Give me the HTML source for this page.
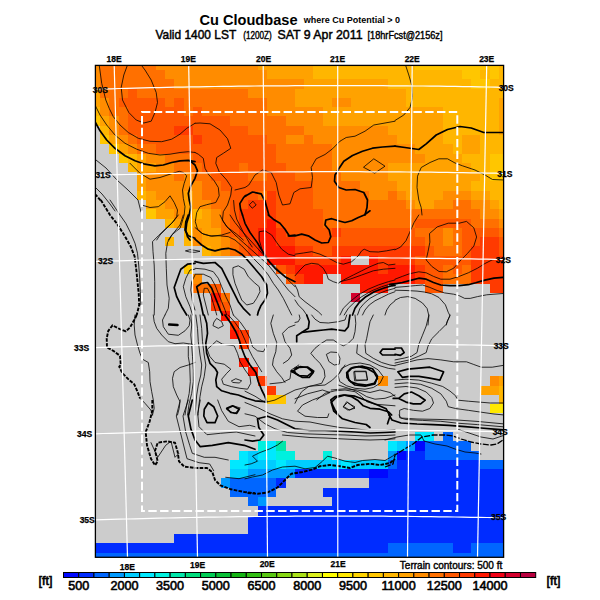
<!DOCTYPE html>
<html><head><meta charset="utf-8"><title>Cu Cloudbase</title>
<style>
html,body{margin:0;padding:0;background:#fff;}
body{width:600px;height:600px;overflow:hidden;position:relative;font-family:"Liberation Sans",sans-serif;}
svg{position:absolute;left:0;top:0;}
text{font-family:"Liberation Sans",sans-serif;fill:#000;}
.cbl{font-size:12.6px;text-anchor:middle;stroke:#000;stroke-width:0.6px;}
.ll{font-size:8.5px;text-anchor:middle;font-weight:bold;stroke:#000;stroke-width:0.25px;}
.t1{font-size:14.6px;font-weight:bold;}
.t1s{font-size:9.4px;font-weight:bold;}
.t2{font-size:13.6px;stroke:#000;stroke-width:0.5px;}
.t2s{font-size:10px;stroke:#000;stroke-width:0.4px;}
.tc{font-size:10.4px;stroke:#000;stroke-width:0.4px;}
.ft{font-size:12.6px;stroke:#000;stroke-width:0.6px;}
</style></head><body>
<svg width="600" height="600" viewBox="0 0 600 600">
<rect x="0" y="0" width="600" height="600" fill="#fff"/>
<rect x="95.4" y="65.4" width="408.20" height="491.90" fill="#cccccc"/>
<g shape-rendering="crispEdges">
<rect x="95.40" y="65.40" width="4.69" height="4.69" fill="#ff8c00"/>
<rect x="100.04" y="65.40" width="55.71" height="4.69" fill="#ff7000"/>
<rect x="155.70" y="65.40" width="102.10" height="4.69" fill="#ff8c00"/>
<rect x="257.75" y="65.40" width="55.71" height="4.69" fill="#ffa200"/>
<rect x="313.42" y="65.40" width="102.10" height="4.69" fill="#ffb600"/>
<rect x="415.47" y="65.40" width="83.55" height="4.69" fill="#ffc600"/>
<rect x="498.96" y="65.40" width="4.69" height="4.69" fill="#ffb600"/>
<rect x="95.40" y="70.04" width="4.69" height="9.33" fill="#ff8c00"/>
<rect x="100.04" y="70.04" width="64.99" height="9.33" fill="#ff7000"/>
<rect x="164.98" y="70.04" width="102.10" height="9.33" fill="#ff8c00"/>
<rect x="267.03" y="70.04" width="46.44" height="9.33" fill="#ffa200"/>
<rect x="313.42" y="70.04" width="148.49" height="9.33" fill="#ffb600"/>
<rect x="461.85" y="70.04" width="18.60" height="9.33" fill="#ffc600"/>
<rect x="480.41" y="70.04" width="9.33" height="9.33" fill="#ffb600"/>
<rect x="489.68" y="70.04" width="9.33" height="9.33" fill="#ffc600"/>
<rect x="498.96" y="70.04" width="4.69" height="9.33" fill="#ffb600"/>
<rect x="95.40" y="79.32" width="4.69" height="9.33" fill="#ff8c00"/>
<rect x="100.04" y="79.32" width="74.27" height="9.33" fill="#ff7000"/>
<rect x="174.26" y="79.32" width="129.93" height="9.33" fill="#ff8c00"/>
<rect x="304.14" y="79.32" width="83.55" height="9.33" fill="#ffa200"/>
<rect x="387.63" y="79.32" width="83.55" height="9.33" fill="#ffb600"/>
<rect x="471.13" y="79.32" width="18.60" height="9.33" fill="#ffc600"/>
<rect x="489.68" y="79.32" width="13.97" height="9.33" fill="#ffb600"/>
<rect x="95.40" y="88.60" width="4.69" height="9.33" fill="#ffa200"/>
<rect x="100.04" y="88.60" width="27.88" height="9.33" fill="#ff7000"/>
<rect x="127.87" y="88.60" width="9.33" height="9.33" fill="#ff5800"/>
<rect x="137.15" y="88.60" width="111.38" height="9.33" fill="#ff7000"/>
<rect x="248.48" y="88.60" width="46.44" height="9.33" fill="#ff8c00"/>
<rect x="294.86" y="88.60" width="111.38" height="9.33" fill="#ffa200"/>
<rect x="406.19" y="88.60" width="97.46" height="9.33" fill="#ffb600"/>
<rect x="95.40" y="97.88" width="4.69" height="9.33" fill="#ffa200"/>
<rect x="100.04" y="97.88" width="9.33" height="9.33" fill="#ff8c00"/>
<rect x="109.32" y="97.88" width="9.33" height="9.33" fill="#ff7000"/>
<rect x="118.59" y="97.88" width="46.44" height="9.33" fill="#ff5800"/>
<rect x="164.98" y="97.88" width="9.33" height="9.33" fill="#ff7000"/>
<rect x="174.26" y="97.88" width="9.33" height="9.33" fill="#ff5800"/>
<rect x="183.53" y="97.88" width="83.55" height="9.33" fill="#ff7000"/>
<rect x="267.03" y="97.88" width="27.88" height="9.33" fill="#ff8c00"/>
<rect x="294.86" y="97.88" width="37.16" height="9.33" fill="#ffa200"/>
<rect x="331.97" y="97.88" width="18.60" height="9.33" fill="#ff8c00"/>
<rect x="350.53" y="97.88" width="55.71" height="9.33" fill="#ffa200"/>
<rect x="406.19" y="97.88" width="92.82" height="9.33" fill="#ffb600"/>
<rect x="498.96" y="97.88" width="4.69" height="9.33" fill="#ffa200"/>
<rect x="95.40" y="107.17" width="4.69" height="9.33" fill="#ffb600"/>
<rect x="100.04" y="107.17" width="9.33" height="9.33" fill="#ff8c00"/>
<rect x="109.32" y="107.17" width="18.60" height="9.33" fill="#ff7000"/>
<rect x="127.87" y="107.17" width="55.71" height="9.33" fill="#ff5800"/>
<rect x="183.53" y="107.17" width="9.33" height="9.33" fill="#ff7000"/>
<rect x="192.81" y="107.17" width="9.33" height="9.33" fill="#ff5800"/>
<rect x="202.09" y="107.17" width="64.99" height="9.33" fill="#ff7000"/>
<rect x="267.03" y="107.17" width="55.71" height="9.33" fill="#ff8c00"/>
<rect x="322.69" y="107.17" width="120.65" height="9.33" fill="#ffa200"/>
<rect x="443.30" y="107.17" width="55.71" height="9.33" fill="#ffb600"/>
<rect x="498.96" y="107.17" width="4.69" height="9.33" fill="#ffa200"/>
<rect x="95.40" y="116.45" width="4.69" height="9.33" fill="#ffc600"/>
<rect x="100.04" y="116.45" width="9.33" height="9.33" fill="#ffa200"/>
<rect x="109.32" y="116.45" width="9.33" height="9.33" fill="#ff8c00"/>
<rect x="118.59" y="116.45" width="9.33" height="9.33" fill="#ff7000"/>
<rect x="127.87" y="116.45" width="102.10" height="9.33" fill="#ff5800"/>
<rect x="229.92" y="116.45" width="55.71" height="9.33" fill="#ff7000"/>
<rect x="285.58" y="116.45" width="37.16" height="9.33" fill="#ff8c00"/>
<rect x="322.69" y="116.45" width="120.65" height="9.33" fill="#ffa200"/>
<rect x="443.30" y="116.45" width="55.71" height="9.33" fill="#ffb600"/>
<rect x="498.96" y="116.45" width="4.69" height="9.33" fill="#ffa200"/>
<rect x="100.04" y="125.73" width="9.33" height="9.33" fill="#ffb600"/>
<rect x="109.32" y="125.73" width="9.33" height="9.33" fill="#ff8c00"/>
<rect x="118.59" y="125.73" width="9.33" height="9.33" fill="#ff7000"/>
<rect x="127.87" y="125.73" width="46.44" height="9.33" fill="#ff5800"/>
<rect x="174.26" y="125.73" width="18.60" height="9.33" fill="#ff3a00"/>
<rect x="192.81" y="125.73" width="55.71" height="9.33" fill="#ff5800"/>
<rect x="248.48" y="125.73" width="55.71" height="9.33" fill="#ff7000"/>
<rect x="304.14" y="125.73" width="83.55" height="9.33" fill="#ff8c00"/>
<rect x="387.63" y="125.73" width="55.71" height="9.33" fill="#ffa200"/>
<rect x="443.30" y="125.73" width="55.71" height="9.33" fill="#ffb600"/>
<rect x="498.96" y="125.73" width="4.69" height="9.33" fill="#ffa200"/>
<rect x="100.04" y="135.01" width="9.33" height="9.33" fill="#ffc600"/>
<rect x="109.32" y="135.01" width="9.33" height="9.33" fill="#ffa200"/>
<rect x="118.59" y="135.01" width="9.33" height="9.33" fill="#ff8c00"/>
<rect x="127.87" y="135.01" width="9.33" height="9.33" fill="#ff7000"/>
<rect x="137.15" y="135.01" width="55.71" height="9.33" fill="#ff5800"/>
<rect x="192.81" y="135.01" width="9.33" height="9.33" fill="#ff3a00"/>
<rect x="202.09" y="135.01" width="64.99" height="9.33" fill="#ff5800"/>
<rect x="267.03" y="135.01" width="18.60" height="9.33" fill="#ff7000"/>
<rect x="285.58" y="135.01" width="18.60" height="9.33" fill="#ff8c00"/>
<rect x="304.14" y="135.01" width="9.33" height="9.33" fill="#ff7000"/>
<rect x="313.42" y="135.01" width="83.55" height="9.33" fill="#ff8c00"/>
<rect x="396.91" y="135.01" width="46.44" height="9.33" fill="#ffa200"/>
<rect x="443.30" y="135.01" width="18.60" height="9.33" fill="#ffb600"/>
<rect x="461.85" y="135.01" width="18.60" height="9.33" fill="#ffa200"/>
<rect x="480.41" y="135.01" width="23.24" height="9.33" fill="#ffb600"/>
<rect x="109.32" y="144.29" width="9.33" height="9.33" fill="#ffc600"/>
<rect x="118.59" y="144.29" width="9.33" height="9.33" fill="#ffa200"/>
<rect x="127.87" y="144.29" width="9.33" height="9.33" fill="#ff8c00"/>
<rect x="137.15" y="144.29" width="18.60" height="9.33" fill="#ff7000"/>
<rect x="155.70" y="144.29" width="120.65" height="9.33" fill="#ff5800"/>
<rect x="276.31" y="144.29" width="55.71" height="9.33" fill="#ff7000"/>
<rect x="331.97" y="144.29" width="83.55" height="9.33" fill="#ff8c00"/>
<rect x="415.47" y="144.29" width="37.16" height="9.33" fill="#ffa200"/>
<rect x="452.58" y="144.29" width="9.33" height="9.33" fill="#ffb600"/>
<rect x="461.85" y="144.29" width="18.60" height="9.33" fill="#ffa200"/>
<rect x="480.41" y="144.29" width="23.24" height="9.33" fill="#ffb600"/>
<rect x="118.59" y="153.57" width="9.33" height="9.33" fill="#ffc600"/>
<rect x="127.87" y="153.57" width="9.33" height="9.33" fill="#ffb600"/>
<rect x="137.15" y="153.57" width="9.33" height="9.33" fill="#ffa200"/>
<rect x="146.43" y="153.57" width="18.60" height="9.33" fill="#ff8c00"/>
<rect x="164.98" y="153.57" width="27.88" height="9.33" fill="#ff7000"/>
<rect x="192.81" y="153.57" width="83.55" height="9.33" fill="#ff5800"/>
<rect x="276.31" y="153.57" width="55.71" height="9.33" fill="#ff7000"/>
<rect x="331.97" y="153.57" width="92.82" height="9.33" fill="#ff8c00"/>
<rect x="424.74" y="153.57" width="37.16" height="9.33" fill="#ffa200"/>
<rect x="461.85" y="153.57" width="27.88" height="9.33" fill="#ffb600"/>
<rect x="489.68" y="153.57" width="13.97" height="9.33" fill="#ffc600"/>
<rect x="127.87" y="162.85" width="9.33" height="9.33" fill="#ffb600"/>
<rect x="137.15" y="162.85" width="18.60" height="9.33" fill="#ffa200"/>
<rect x="155.70" y="162.85" width="18.60" height="9.33" fill="#ff8c00"/>
<rect x="174.26" y="162.85" width="27.88" height="9.33" fill="#ff7000"/>
<rect x="202.09" y="162.85" width="37.16" height="9.33" fill="#ff5800"/>
<rect x="239.20" y="162.85" width="9.33" height="9.33" fill="#ff7000"/>
<rect x="248.48" y="162.85" width="37.16" height="9.33" fill="#ff5800"/>
<rect x="285.58" y="162.85" width="46.44" height="9.33" fill="#ff7000"/>
<rect x="331.97" y="162.85" width="55.71" height="9.33" fill="#ff8c00"/>
<rect x="387.63" y="162.85" width="83.55" height="9.33" fill="#ffa200"/>
<rect x="471.13" y="162.85" width="18.60" height="9.33" fill="#ffb600"/>
<rect x="489.68" y="162.85" width="13.97" height="9.33" fill="#ffc600"/>
<rect x="137.15" y="172.13" width="9.33" height="9.33" fill="#ffa200"/>
<rect x="146.43" y="172.13" width="27.88" height="9.33" fill="#ff8c00"/>
<rect x="174.26" y="172.13" width="9.33" height="9.33" fill="#ff7000"/>
<rect x="183.53" y="172.13" width="9.33" height="9.33" fill="#ff8c00"/>
<rect x="192.81" y="172.13" width="18.60" height="9.33" fill="#ff7000"/>
<rect x="211.37" y="172.13" width="37.16" height="9.33" fill="#ff5800"/>
<rect x="248.48" y="172.13" width="18.60" height="9.33" fill="#ff7000"/>
<rect x="267.03" y="172.13" width="27.88" height="9.33" fill="#ff5800"/>
<rect x="294.86" y="172.13" width="46.44" height="9.33" fill="#ff7000"/>
<rect x="341.25" y="172.13" width="46.44" height="9.33" fill="#ff8c00"/>
<rect x="387.63" y="172.13" width="92.82" height="9.33" fill="#ffa200"/>
<rect x="480.41" y="172.13" width="9.33" height="9.33" fill="#ffb600"/>
<rect x="489.68" y="172.13" width="13.97" height="9.33" fill="#ffc600"/>
<rect x="137.15" y="181.41" width="9.33" height="9.33" fill="#ffa200"/>
<rect x="146.43" y="181.41" width="55.71" height="9.33" fill="#ff8c00"/>
<rect x="202.09" y="181.41" width="18.60" height="9.33" fill="#ff7000"/>
<rect x="220.64" y="181.41" width="92.82" height="9.33" fill="#ff5800"/>
<rect x="313.42" y="181.41" width="46.44" height="9.33" fill="#ff7000"/>
<rect x="359.80" y="181.41" width="37.16" height="9.33" fill="#ff8c00"/>
<rect x="396.91" y="181.41" width="74.27" height="9.33" fill="#ffa200"/>
<rect x="471.13" y="181.41" width="32.52" height="9.33" fill="#ffb600"/>
<rect x="137.15" y="190.70" width="9.33" height="9.33" fill="#ffb600"/>
<rect x="146.43" y="190.70" width="9.33" height="9.33" fill="#ffa200"/>
<rect x="155.70" y="190.70" width="27.88" height="9.33" fill="#ff8c00"/>
<rect x="183.53" y="190.70" width="9.33" height="9.33" fill="#ffa200"/>
<rect x="192.81" y="190.70" width="9.33" height="9.33" fill="#ff8c00"/>
<rect x="202.09" y="190.70" width="27.88" height="9.33" fill="#ff7000"/>
<rect x="229.92" y="190.70" width="27.88" height="9.33" fill="#ff5800"/>
<rect x="257.75" y="190.70" width="9.33" height="9.33" fill="#ff7000"/>
<rect x="267.03" y="190.70" width="9.33" height="9.33" fill="#ff3a00"/>
<rect x="276.31" y="190.70" width="37.16" height="9.33" fill="#ff5800"/>
<rect x="313.42" y="190.70" width="55.71" height="9.33" fill="#ff7000"/>
<rect x="369.08" y="190.70" width="18.60" height="9.33" fill="#ff8c00"/>
<rect x="387.63" y="190.70" width="9.33" height="9.33" fill="#ff7000"/>
<rect x="396.91" y="190.70" width="9.33" height="9.33" fill="#ff8c00"/>
<rect x="406.19" y="190.70" width="37.16" height="9.33" fill="#ffa200"/>
<rect x="443.30" y="190.70" width="27.88" height="9.33" fill="#ff8c00"/>
<rect x="471.13" y="190.70" width="18.60" height="9.33" fill="#ffa200"/>
<rect x="489.68" y="190.70" width="13.97" height="9.33" fill="#ffb600"/>
<rect x="146.43" y="199.98" width="18.60" height="9.33" fill="#ffa200"/>
<rect x="164.98" y="199.98" width="18.60" height="9.33" fill="#ff8c00"/>
<rect x="183.53" y="199.98" width="9.33" height="9.33" fill="#ffa200"/>
<rect x="192.81" y="199.98" width="18.60" height="9.33" fill="#ff8c00"/>
<rect x="211.37" y="199.98" width="18.60" height="9.33" fill="#ff7000"/>
<rect x="229.92" y="199.98" width="18.60" height="9.33" fill="#ff5800"/>
<rect x="248.48" y="199.98" width="27.88" height="9.33" fill="#ff3a00"/>
<rect x="276.31" y="199.98" width="37.16" height="9.33" fill="#ff5800"/>
<rect x="313.42" y="199.98" width="92.82" height="9.33" fill="#ff7000"/>
<rect x="406.19" y="199.98" width="9.33" height="9.33" fill="#ff8c00"/>
<rect x="415.47" y="199.98" width="18.60" height="9.33" fill="#ffa200"/>
<rect x="434.02" y="199.98" width="18.60" height="9.33" fill="#ff8c00"/>
<rect x="452.58" y="199.98" width="18.60" height="9.33" fill="#ff7000"/>
<rect x="471.13" y="199.98" width="18.60" height="9.33" fill="#ff8c00"/>
<rect x="489.68" y="199.98" width="9.33" height="9.33" fill="#ffa200"/>
<rect x="498.96" y="199.98" width="4.69" height="9.33" fill="#ffb600"/>
<rect x="146.43" y="209.26" width="9.33" height="9.33" fill="#ffc600"/>
<rect x="155.70" y="209.26" width="18.60" height="9.33" fill="#ffa200"/>
<rect x="174.26" y="209.26" width="9.33" height="9.33" fill="#ff8c00"/>
<rect x="183.53" y="209.26" width="9.33" height="9.33" fill="#ffa200"/>
<rect x="192.81" y="209.26" width="9.33" height="9.33" fill="#ffb600"/>
<rect x="202.09" y="209.26" width="9.33" height="9.33" fill="#ffa200"/>
<rect x="211.37" y="209.26" width="9.33" height="9.33" fill="#ff8c00"/>
<rect x="220.64" y="209.26" width="9.33" height="9.33" fill="#ff7000"/>
<rect x="229.92" y="209.26" width="9.33" height="9.33" fill="#ff5800"/>
<rect x="239.20" y="209.26" width="37.16" height="9.33" fill="#ff3a00"/>
<rect x="276.31" y="209.26" width="46.44" height="9.33" fill="#ff5800"/>
<rect x="322.69" y="209.26" width="157.76" height="9.33" fill="#ff7000"/>
<rect x="480.41" y="209.26" width="18.60" height="9.33" fill="#ff8c00"/>
<rect x="498.96" y="209.26" width="4.69" height="9.33" fill="#ffa200"/>
<rect x="164.98" y="218.54" width="9.33" height="9.33" fill="#ffb600"/>
<rect x="174.26" y="218.54" width="9.33" height="9.33" fill="#ffa200"/>
<rect x="183.53" y="218.54" width="9.33" height="9.33" fill="#ffb600"/>
<rect x="192.81" y="218.54" width="18.60" height="9.33" fill="#ffa200"/>
<rect x="211.37" y="218.54" width="9.33" height="9.33" fill="#ff8c00"/>
<rect x="220.64" y="218.54" width="9.33" height="9.33" fill="#ff7000"/>
<rect x="229.92" y="218.54" width="9.33" height="9.33" fill="#ff5800"/>
<rect x="239.20" y="218.54" width="27.88" height="9.33" fill="#ff3a00"/>
<rect x="267.03" y="218.54" width="9.33" height="9.33" fill="#ff1800"/>
<rect x="276.31" y="218.54" width="46.44" height="9.33" fill="#ff5800"/>
<rect x="322.69" y="218.54" width="92.82" height="9.33" fill="#ff7000"/>
<rect x="415.47" y="218.54" width="55.71" height="9.33" fill="#ff5800"/>
<rect x="471.13" y="218.54" width="27.88" height="9.33" fill="#ff7000"/>
<rect x="498.96" y="218.54" width="4.69" height="9.33" fill="#ff8c00"/>
<rect x="183.53" y="227.82" width="9.33" height="9.33" fill="#ffb600"/>
<rect x="192.81" y="227.82" width="9.33" height="9.33" fill="#ff8c00"/>
<rect x="202.09" y="227.82" width="18.60" height="9.33" fill="#ffa200"/>
<rect x="220.64" y="227.82" width="9.33" height="9.33" fill="#ff7000"/>
<rect x="229.92" y="227.82" width="9.33" height="9.33" fill="#ff5800"/>
<rect x="239.20" y="227.82" width="18.60" height="9.33" fill="#ff3a00"/>
<rect x="257.75" y="227.82" width="18.60" height="9.33" fill="#ff1800"/>
<rect x="276.31" y="227.82" width="9.33" height="9.33" fill="#ff3a00"/>
<rect x="285.58" y="227.82" width="46.44" height="9.33" fill="#ff5800"/>
<rect x="331.97" y="227.82" width="9.33" height="9.33" fill="#ff3a00"/>
<rect x="341.25" y="227.82" width="74.27" height="9.33" fill="#ff5800"/>
<rect x="415.47" y="227.82" width="27.88" height="9.33" fill="#ff7000"/>
<rect x="443.30" y="227.82" width="9.33" height="9.33" fill="#ff8c00"/>
<rect x="452.58" y="227.82" width="9.33" height="9.33" fill="#ff7000"/>
<rect x="461.85" y="227.82" width="37.16" height="9.33" fill="#ff5800"/>
<rect x="498.96" y="227.82" width="4.69" height="9.33" fill="#ff7000"/>
<rect x="164.98" y="237.10" width="9.33" height="9.33" fill="#ffb600"/>
<rect x="183.53" y="237.10" width="9.33" height="9.33" fill="#ffb600"/>
<rect x="192.81" y="237.10" width="9.33" height="9.33" fill="#ff8c00"/>
<rect x="202.09" y="237.10" width="18.60" height="9.33" fill="#ffa200"/>
<rect x="220.64" y="237.10" width="9.33" height="9.33" fill="#ff8c00"/>
<rect x="229.92" y="237.10" width="9.33" height="9.33" fill="#ff7000"/>
<rect x="239.20" y="237.10" width="9.33" height="9.33" fill="#ff5800"/>
<rect x="248.48" y="237.10" width="9.33" height="9.33" fill="#ff3a00"/>
<rect x="257.75" y="237.10" width="18.60" height="9.33" fill="#ff1800"/>
<rect x="276.31" y="237.10" width="18.60" height="9.33" fill="#ff3a00"/>
<rect x="294.86" y="237.10" width="129.93" height="9.33" fill="#ff5800"/>
<rect x="424.74" y="237.10" width="18.60" height="9.33" fill="#ff7000"/>
<rect x="443.30" y="237.10" width="9.33" height="9.33" fill="#ff8c00"/>
<rect x="452.58" y="237.10" width="9.33" height="9.33" fill="#ff7000"/>
<rect x="461.85" y="237.10" width="18.60" height="9.33" fill="#ff5800"/>
<rect x="480.41" y="237.10" width="18.60" height="9.33" fill="#ff3a00"/>
<rect x="498.96" y="237.10" width="4.69" height="9.33" fill="#ff5800"/>
<rect x="202.09" y="246.38" width="9.33" height="9.33" fill="#ffb600"/>
<rect x="211.37" y="246.38" width="9.33" height="9.33" fill="#ffa200"/>
<rect x="220.64" y="246.38" width="9.33" height="9.33" fill="#ff8c00"/>
<rect x="229.92" y="246.38" width="9.33" height="9.33" fill="#ff7000"/>
<rect x="239.20" y="246.38" width="9.33" height="9.33" fill="#ff5800"/>
<rect x="248.48" y="246.38" width="9.33" height="9.33" fill="#ff3a00"/>
<rect x="257.75" y="246.38" width="37.16" height="9.33" fill="#ff1800"/>
<rect x="294.86" y="246.38" width="18.60" height="9.33" fill="#ff3a00"/>
<rect x="313.42" y="246.38" width="18.60" height="9.33" fill="#ff5800"/>
<rect x="331.97" y="246.38" width="92.82" height="9.33" fill="#ff3a00"/>
<rect x="424.74" y="246.38" width="9.33" height="9.33" fill="#ff5800"/>
<rect x="434.02" y="246.38" width="27.88" height="9.33" fill="#ff7000"/>
<rect x="461.85" y="246.38" width="9.33" height="9.33" fill="#ff5800"/>
<rect x="471.13" y="246.38" width="27.88" height="9.33" fill="#ff3a00"/>
<rect x="498.96" y="246.38" width="4.69" height="9.33" fill="#ff5800"/>
<rect x="267.03" y="255.66" width="27.88" height="9.33" fill="#ff1800"/>
<rect x="294.86" y="255.66" width="46.44" height="9.33" fill="#ff3a00"/>
<rect x="341.25" y="255.66" width="9.33" height="9.33" fill="#ff1800"/>
<rect x="369.08" y="255.66" width="9.33" height="9.33" fill="#ff1800"/>
<rect x="378.36" y="255.66" width="37.16" height="9.33" fill="#ff3a00"/>
<rect x="415.47" y="255.66" width="55.71" height="9.33" fill="#ff5800"/>
<rect x="471.13" y="255.66" width="32.52" height="9.33" fill="#ff3a00"/>
<rect x="183.53" y="264.94" width="9.33" height="9.33" fill="#ffc600"/>
<rect x="276.31" y="264.94" width="9.33" height="9.33" fill="#ff5800"/>
<rect x="285.58" y="264.94" width="9.33" height="9.33" fill="#ff3a00"/>
<rect x="294.86" y="264.94" width="83.55" height="9.33" fill="#ff1800"/>
<rect x="378.36" y="264.94" width="9.33" height="9.33" fill="#ff3a00"/>
<rect x="387.63" y="264.94" width="27.88" height="9.33" fill="#ff1800"/>
<rect x="415.47" y="264.94" width="9.33" height="9.33" fill="#ff3a00"/>
<rect x="424.74" y="264.94" width="18.60" height="9.33" fill="#ff5800"/>
<rect x="443.30" y="264.94" width="9.33" height="9.33" fill="#ff7000"/>
<rect x="452.58" y="264.94" width="9.33" height="9.33" fill="#ff5800"/>
<rect x="461.85" y="264.94" width="9.33" height="9.33" fill="#ff7000"/>
<rect x="471.13" y="264.94" width="32.52" height="9.33" fill="#ff3a00"/>
<rect x="192.81" y="274.23" width="9.33" height="9.33" fill="#ff8c00"/>
<rect x="285.58" y="274.23" width="9.33" height="9.33" fill="#ff5800"/>
<rect x="294.86" y="274.23" width="9.33" height="9.33" fill="#ff3a00"/>
<rect x="304.14" y="274.23" width="18.60" height="9.33" fill="#ff1800"/>
<rect x="341.25" y="274.23" width="74.27" height="9.33" fill="#ff1800"/>
<rect x="415.47" y="274.23" width="9.33" height="9.33" fill="#ff3a00"/>
<rect x="424.74" y="274.23" width="18.60" height="9.33" fill="#ff5800"/>
<rect x="443.30" y="274.23" width="27.88" height="9.33" fill="#ff7000"/>
<rect x="471.13" y="274.23" width="32.52" height="9.33" fill="#ff3a00"/>
<rect x="192.81" y="283.51" width="18.60" height="9.33" fill="#ff7000"/>
<rect x="211.37" y="283.51" width="9.33" height="9.33" fill="#ff5800"/>
<rect x="359.80" y="283.51" width="27.88" height="9.33" fill="#ff1800"/>
<rect x="424.74" y="283.51" width="18.60" height="9.33" fill="#ff5800"/>
<rect x="489.68" y="283.51" width="13.97" height="9.33" fill="#ff3a00"/>
<rect x="211.37" y="292.79" width="9.33" height="9.33" fill="#ff1800"/>
<rect x="220.64" y="292.79" width="9.33" height="9.33" fill="#ff7000"/>
<rect x="350.53" y="292.79" width="9.33" height="9.33" fill="#d4002d"/>
<rect x="211.37" y="302.07" width="9.33" height="9.33" fill="#ff3a00"/>
<rect x="220.64" y="302.07" width="9.33" height="9.33" fill="#ff5800"/>
<rect x="220.64" y="311.35" width="9.33" height="9.33" fill="#ff1800"/>
<rect x="229.92" y="320.63" width="9.33" height="9.33" fill="#ff3a00"/>
<rect x="229.92" y="329.91" width="9.33" height="9.33" fill="#ff1800"/>
<rect x="239.20" y="329.91" width="9.33" height="9.33" fill="#ff3a00"/>
<rect x="239.20" y="339.19" width="9.33" height="9.33" fill="#ff3a00"/>
<rect x="239.20" y="357.76" width="9.33" height="9.33" fill="#ff1800"/>
<rect x="248.48" y="367.04" width="9.33" height="9.33" fill="#ff1800"/>
<rect x="257.75" y="376.32" width="9.33" height="9.33" fill="#ff3a00"/>
<rect x="378.36" y="376.32" width="9.33" height="9.33" fill="#ff8c00"/>
<rect x="489.68" y="376.32" width="9.33" height="9.33" fill="#ff8c00"/>
<rect x="498.96" y="376.32" width="4.69" height="9.33" fill="#ffa200"/>
<rect x="267.03" y="385.60" width="9.33" height="9.33" fill="#ff3a00"/>
<rect x="480.41" y="385.60" width="18.60" height="9.33" fill="#ffa200"/>
<rect x="498.96" y="385.60" width="4.69" height="9.33" fill="#ffb600"/>
<rect x="267.03" y="394.88" width="18.60" height="9.33" fill="#ffc600"/>
<rect x="498.96" y="394.88" width="4.69" height="9.33" fill="#ffb600"/>
<rect x="489.68" y="404.16" width="13.97" height="9.33" fill="#ffe800"/>
<rect x="415.47" y="432.00" width="18.60" height="9.33" fill="#00e8ff"/>
<rect x="443.30" y="432.00" width="9.33" height="9.33" fill="#0066ff"/>
<rect x="257.75" y="441.29" width="9.33" height="9.33" fill="#00f0de"/>
<rect x="267.03" y="441.29" width="9.33" height="9.33" fill="#00e8ff"/>
<rect x="276.31" y="441.29" width="9.33" height="9.33" fill="#00e6aa"/>
<rect x="387.63" y="441.29" width="9.33" height="9.33" fill="#00e8ff"/>
<rect x="396.91" y="441.29" width="9.33" height="9.33" fill="#00ccff"/>
<rect x="406.19" y="441.29" width="9.33" height="9.33" fill="#0099ff"/>
<rect x="415.47" y="441.29" width="9.33" height="9.33" fill="#0008ff"/>
<rect x="424.74" y="441.29" width="46.44" height="9.33" fill="#0066ff"/>
<rect x="239.20" y="450.57" width="9.33" height="9.33" fill="#00e8ff"/>
<rect x="248.48" y="450.57" width="9.33" height="9.33" fill="#00ccff"/>
<rect x="257.75" y="450.57" width="18.60" height="9.33" fill="#00e8ff"/>
<rect x="276.31" y="450.57" width="18.60" height="9.33" fill="#00f0de"/>
<rect x="322.69" y="450.57" width="9.33" height="9.33" fill="#00f0de"/>
<rect x="387.63" y="450.57" width="9.33" height="9.33" fill="#0099ff"/>
<rect x="396.91" y="450.57" width="9.33" height="9.33" fill="#0008ff"/>
<rect x="406.19" y="450.57" width="18.60" height="9.33" fill="#002cff"/>
<rect x="424.74" y="450.57" width="55.71" height="9.33" fill="#0066ff"/>
<rect x="229.92" y="459.85" width="18.60" height="9.33" fill="#00e8ff"/>
<rect x="248.48" y="459.85" width="27.88" height="9.33" fill="#00ccff"/>
<rect x="276.31" y="459.85" width="9.33" height="9.33" fill="#00e8ff"/>
<rect x="285.58" y="459.85" width="55.71" height="9.33" fill="#00ccff"/>
<rect x="341.25" y="459.85" width="9.33" height="9.33" fill="#00e8ff"/>
<rect x="350.53" y="459.85" width="37.16" height="9.33" fill="#00ccff"/>
<rect x="387.63" y="459.85" width="9.33" height="9.33" fill="#0066ff"/>
<rect x="396.91" y="459.85" width="83.55" height="9.33" fill="#002cff"/>
<rect x="480.41" y="459.85" width="23.24" height="9.33" fill="#0066ff"/>
<rect x="229.92" y="469.13" width="18.60" height="9.33" fill="#00ccff"/>
<rect x="248.48" y="469.13" width="46.44" height="9.33" fill="#0099ff"/>
<rect x="294.86" y="469.13" width="74.27" height="9.33" fill="#002cff"/>
<rect x="369.08" y="469.13" width="18.60" height="9.33" fill="#0008ff"/>
<rect x="387.63" y="469.13" width="116.02" height="9.33" fill="#002cff"/>
<rect x="220.64" y="478.41" width="9.33" height="9.33" fill="#0099ff"/>
<rect x="229.92" y="478.41" width="46.44" height="9.33" fill="#0066ff"/>
<rect x="276.31" y="478.41" width="9.33" height="9.33" fill="#002cff"/>
<rect x="369.08" y="478.41" width="134.57" height="9.33" fill="#002cff"/>
<rect x="229.92" y="487.69" width="46.44" height="9.33" fill="#0066ff"/>
<rect x="322.69" y="487.69" width="180.96" height="9.33" fill="#002cff"/>
<rect x="248.48" y="496.97" width="9.33" height="9.33" fill="#0066ff"/>
<rect x="257.75" y="496.97" width="9.33" height="9.33" fill="#0099ff"/>
<rect x="331.97" y="496.97" width="171.68" height="9.33" fill="#002cff"/>
<rect x="257.75" y="506.25" width="245.90" height="9.33" fill="#002cff"/>
<rect x="248.48" y="515.53" width="255.18" height="9.33" fill="#002cff"/>
<rect x="248.48" y="524.82" width="255.18" height="9.33" fill="#002cff"/>
<rect x="174.26" y="534.10" width="329.39" height="9.33" fill="#002cff"/>
<rect x="95.40" y="543.38" width="292.28" height="9.33" fill="#002cff"/>
<rect x="387.63" y="543.38" width="64.99" height="9.33" fill="#0066ff"/>
<rect x="452.58" y="543.38" width="18.60" height="9.33" fill="#002cff"/>
<rect x="471.13" y="543.38" width="32.52" height="9.33" fill="#0066ff"/>
<rect x="95.40" y="552.66" width="408.25" height="4.69" fill="#0066ff"/>
</g>
<clipPath id="mc"><rect x="95.4" y="65.4" width="408.20" height="491.90"/></clipPath>
<g id="contours" clip-path="url(#mc)" fill="none" stroke="#000" stroke-linejoin="round" stroke-linecap="round">
<path d="M127.5,65.0 L123.8,75.0 L121.2,87.5 L122.5,100.0 L128.8,112.5 L136.2,120.0 L143.8,123.0 L151.2,121.2 L155.0,112.5 L157.5,102.5 L156.2,92.5 L151.2,80.0 L145.0,70.0 L141.2,65.0" stroke-width="0.8"/>
<path d="M99.2,65.0 L101.7,83.3 L105.8,100.0 L109.2,108.3 L113.3,116.7 L120.0,125.0 L128.3,132.5 L138.3,138.3 L150.0,141.3 L161.7,141.7 L171.7,139.2 L180.0,134.2 L186.7,128.3 L195.0,123.3" stroke-width="0.8"/>
<path d="M95.0,105.0 L100.0,115.0 L106.7,125.0 L115.0,135.0 L125.0,143.3 L136.7,149.2 L148.3,153.3 L160.0,155.0 L170.0,154.2 L180.0,152.5 L188.3,151.7 L195.0,152.5" stroke-width="0.8"/>
<path d="M95.0,121.7 L100.0,130.8 L106.7,140.0 L115.0,148.3 L125.0,155.8 L135.0,160.8 L145.0,164.2 L155.0,165.8 L163.3,165.0 L171.7,162.5 L180.0,160.8 L188.3,160.3 L195.0,161.7" stroke-width="1.7"/>
<path d="M195.0,123.3 L200.0,123.0 L210.0,123.8 L220.0,130.0 L227.5,138.7 L230.8,148.3 L223.3,153.3 L216.7,157.5 L215.8,163.3 L219.2,171.7 L226.7,180.0 L231.7,187.5 L230.8,195.0 L227.5,205.0 L223.3,211.7 L222.5,220.0 L226.7,226.7 L236.7,234.2 L243.3,240.0" stroke-width="0.8"/>
<path d="M195.0,152.5 L198.3,154.2 L203.3,158.3 L205.0,168.3 L208.3,174.2 L214.2,180.8 L218.3,187.5 L219.2,195.8 L215.8,202.5 L206.7,204.7 L200.0,206.7 L196.7,212.5 L195.3,221.7 L197.5,229.2 L203.3,234.2 L211.7,236.3 L221.7,235.0 L230.0,232.5" stroke-width="0.8"/>
<path d="M190.0,160.8 L195.0,165.0 L197.5,170.8 L195.0,178.3 L190.8,185.8 L188.3,193.3 L189.2,200.0 L190.8,206.7 L189.2,215.0 L186.7,223.3 L185.8,230.8 L187.5,236.7 L190.0,240.0" stroke-width="1.7"/>
<path d="M130.0,163.3 L140.0,173.3 L150.0,179.2 L160.0,177.5 L170.0,174.2 L179.2,171.3 L183.3,172.5 L186.7,175.8 L184.2,183.3 L182.5,190.0 L183.3,198.3 L185.0,206.7 L184.2,215.0 L181.7,223.3 L180.0,228.3 L176.7,230.8 L171.7,235.0 L168.3,240.0" stroke-width="0.8"/>
<path d="M141.7,205.0 L150.0,207.5 L158.3,206.7 L165.0,201.7 L170.0,195.8 L174.2,202.5 L177.5,210.0 L176.7,216.7 L171.7,223.3 L165.0,230.0 L160.0,235.0 L156.7,240.0" stroke-width="0.8"/>
<path d="M395.0,121.2 L385.0,123.0 L373.8,125.0 L365.0,131.2 L355.0,136.2 L346.2,137.5 L340.0,141.2 L332.5,148.8 L325.0,154.5 L316.2,158.8 L311.2,167.5 L312.5,177.5 L311.2,187.5 L300.0,188.8 L293.8,192.5 L290.0,203.8 L282.5,205.0 L278.8,195.0 L276.2,182.5 L271.2,172.5 L262.5,170.0 L255.0,175.0 L248.8,185.0 L245.0,187.5 L235.0,190.0" stroke-width="0.8"/>
<path d="M395.0,146.2 L382.5,147.0 L372.5,148.2 L362.5,151.2 L352.5,155.5 L343.8,161.2 L338.8,168.8 L335.0,175.0 L334.5,181.2 L338.8,187.5 L346.2,190.0 L355.0,189.5 L363.8,192.5 L367.5,200.0 L367.0,207.5 L365.0,215.0" stroke-width="1.7"/>
<path d="M363.8,167.0 L373.8,158.8 L385.0,166.2 L375.0,173.0 Z" stroke-width="0.8"/>
<path d="M245.0,196.2 L252.5,192.0 L261.2,193.8 L265.0,201.2 L267.5,210.0 L268.8,215.0" stroke-width="1.7"/>
<path d="M249.5,204.5 L253.0,201.2 L256.2,205.0 L252.5,208.0 Z" stroke-width="0.8"/>
<path d="M405.5,65.0 L408.8,75.0 L412.0,86.2 L412.5,97.5 L410.0,107.5 L403.8,115.0 L395.0,120.5" stroke-width="0.8"/>
<path d="M395.0,146.2 L405.0,147.5 L418.8,149.5 L426.2,143.8 L436.2,135.0 L447.5,129.5 L460.0,126.5 L471.2,128.0 L483.8,132.5 L503.8,132.5" stroke-width="1.7"/>
<path d="M503.8,180.0 L492.5,179.5 L485.0,175.0 L475.0,170.0 L462.5,165.8 L455.0,163.0 L447.5,158.8 L438.8,158.8 L430.0,162.5 L421.2,167.5 L417.5,176.2 L417.0,187.5 L418.8,200.0 L421.2,207.5 L422.0,215.0" stroke-width="0.8"/>
<path d="M100.8,200.0 L110.0,215.0 L116.7,223.3 L124.2,235.0 L130.8,246.7 L134.7,256.7 L136.3,270.0 L137.5,281.7 L138.7,293.3 L139.2,305.0 L136.7,315.0" stroke-width="1.9" stroke-dasharray="3.6 1.3" stroke-linecap="butt"/>
<path d="M110.0,200.0 L120.0,215.0 L125.8,223.3 L130.8,233.3 L135.0,243.3 L137.5,253.3 L138.7,265.0 L139.7,278.3 L140.3,291.7 L140.8,305.0" stroke-width="0.8"/>
<path d="M178.3,215.0 L173.3,221.7 L165.0,229.2 L158.3,235.8 L152.5,241.7 L153.0,251.7 L154.2,265.0 L154.7,281.7 L154.7,298.3 L154.2,315.0" stroke-width="0.8"/>
<path d="M183.3,215.0 L180.0,225.0 L172.5,234.2 L167.5,242.5 L165.8,253.3 L166.3,268.3 L167.0,285.0 L169.2,298.3 L168.3,308.3 L165.0,315.0" stroke-width="0.8"/>
<path d="M195.0,263.3 L187.5,264.2 L180.8,269.2 L177.5,278.3 L174.2,287.5 L176.7,296.7 L181.7,306.7 L186.7,315.0" stroke-width="1.7"/>
<path d="M195.0,269.2 L190.0,270.0 L185.8,278.3 L183.3,286.7 L185.8,296.7 L190.0,306.7 L192.5,315.0" stroke-width="0.8"/>
<path d="M195.0,275.0 L191.7,281.7 L190.8,290.0 L192.5,301.7 L195.0,310.0" stroke-width="0.8"/>
<path d="M188.3,215.0 L185.8,221.7 L185.0,230.0 L188.3,235.8 L195.0,238.3" stroke-width="1.7"/>
<path d="M185.8,250.8 L190.0,249.7 L195.0,250.3 L200.0,251.3 L195.0,252.3 L190.0,252.0 Z" stroke-width="0.8"/>
<path d="M195.0,239.2 L201.7,245.0 L208.3,249.2 L215.0,250.8 L221.7,249.2 L228.3,248.3 L235.0,250.0 L241.7,254.2 L246.7,259.2 L251.7,265.0 L261.7,276.7 L266.7,285.0 L267.5,293.3 L265.0,300.0 L260.8,305.8 L258.3,311.7 L257.5,315.0" stroke-width="1.7"/>
<path d="M195.0,227.5 L201.7,233.3 L210.0,235.8 L220.0,235.8 L228.3,236.7 L235.0,240.0 L241.7,245.8 L248.3,252.5 L255.0,260.0 L261.7,266.7 L268.3,275.0 L273.3,283.3 L278.3,290.0 L283.3,298.3 L288.3,308.3 L291.7,315.0" stroke-width="0.8"/>
<path d="M220.0,215.0 L223.3,221.7 L228.3,228.3 L235.0,235.0 L243.3,242.5 L251.7,250.0 L260.0,257.5 L268.3,265.0 L275.0,273.3 L281.7,281.7 L288.3,290.0 L295.0,296.7" stroke-width="0.8"/>
<path d="M230.0,215.0 L235.0,222.5 L241.7,230.8 L250.0,240.0 L258.3,249.2 L265.0,256.7 L271.7,263.3 L280.0,271.7 L288.3,280.0 L295.0,286.7" stroke-width="0.8"/>
<path d="M242.5,215.0 L245.0,223.3 L250.0,232.5 L256.7,241.7 L261.7,250.0 L265.8,256.7 L269.2,261.7 L275.0,268.3 L285.0,276.7 L295.0,281.7" stroke-width="1.6"/>
<path d="M264.2,255.0 L261.7,248.3 L259.2,240.0 L259.2,231.7 L265.0,230.8 L271.7,235.0 L276.7,242.5 L281.7,249.2 L288.3,254.2 L295.0,255.8" stroke-width="0.8"/>
<path d="M268.3,215.0 L273.3,219.2 L280.0,223.3 L285.0,229.2 L289.2,235.8 L295.0,235.0" stroke-width="1.7"/>
<path d="M195.0,261.7 L203.3,263.3 L215.0,262.5 L221.7,268.3 L225.8,276.7 L230.0,285.0 L234.2,293.3 L238.3,301.7 L243.3,308.3 L250.0,315.0" stroke-width="1.7"/>
<path d="M195.0,268.3 L205.0,269.2 L213.3,271.7 L218.3,278.3 L221.7,286.7 L225.8,296.7 L230.0,305.0 L233.3,315.0" stroke-width="0.8"/>
<path d="M195.0,274.2 L203.3,274.2 L210.8,277.5 L215.0,285.0 L218.3,293.3 L221.7,301.7 L225.0,310.0 L226.7,315.0" stroke-width="0.8"/>
<path d="M203.3,315.0 L200.8,303.3 L198.3,293.3 L196.7,286.7 L201.7,283.3 L207.5,282.5 L211.7,288.3 L215.0,296.7 L218.3,305.0 L220.8,311.7 L222.5,315.0" stroke-width="1.7"/>
<path d="M208.3,315.0 L205.8,305.0 L203.3,295.0 L204.2,288.3 L207.5,288.3 L210.8,295.0 L213.3,303.3 L215.8,311.7 L216.7,315.0" stroke-width="0.8"/>
<path d="M233.3,267.5 L238.3,265.8 L244.2,269.2 L248.3,276.7 L254.2,282.5 L259.2,286.7 L260.0,291.7 L256.7,298.3 L253.3,303.3 L246.7,305.0 L241.7,300.0 L238.3,291.7 L235.0,283.3 L233.0,275.0 Z" stroke-width="0.8"/>
<path d="M288.3,235.8 L295.0,235.8 L301.7,234.2 L308.3,235.8 L315.0,240.0 L321.7,243.0 L328.3,242.5 L330.8,236.7 L329.2,230.0 L325.0,225.0 L325.8,220.0 L331.7,218.7 L338.3,220.8 L345.0,222.5 L351.7,220.8 L358.3,217.5 L364.2,215.0 L370.0,210.8" stroke-width="1.7"/>
<path d="M295.0,254.2 L303.3,253.0 L311.7,251.7 L320.0,254.2 L328.3,258.0 L336.7,262.5 L343.3,264.2 L351.7,261.7 L358.3,255.8 L361.7,250.8 L364.2,249.2 L370.0,251.7 L378.3,252.0 L386.7,250.8 L395.0,249.2" stroke-width="0.8"/>
<path d="M295.0,275.8 L300.0,270.0 L305.0,265.0 L311.7,263.3 L318.3,264.2 L323.3,268.3 L326.7,274.2 L328.3,279.2 L333.3,281.7 L338.3,283.3 L345.0,279.2 L353.3,275.0 L361.7,270.8 L370.0,266.7 L378.3,263.3 L383.3,262.5 L388.3,265.0 L395.0,264.2" stroke-width="0.8"/>
<path d="M340.0,281.7 L350.0,279.2 L361.7,275.0 L373.3,270.8 L383.3,269.2 L395.0,268.3" stroke-width="0.8"/>
<path d="M340.0,315.0 L343.3,308.3 L350.0,301.7 L358.3,295.0 L368.3,289.2 L378.3,285.0 L388.3,281.7 L395.0,280.0" stroke-width="0.8"/>
<path d="M344.2,315.0 L348.3,308.3 L354.2,302.5 L361.7,296.7 L371.7,290.8 L381.7,286.7 L390.0,284.2 L395.0,283.3" stroke-width="0.8"/>
<path d="M352.5,315.0 L355.0,308.3 L359.2,302.5 L365.8,296.7 L374.2,291.7 L383.3,288.3 L391.7,285.8 L395.0,285.3" stroke-width="1.7"/>
<path d="M357.5,315.0 L360.0,308.3 L364.2,303.3 L370.0,298.3 L377.5,294.2 L385.8,290.8 L395.0,288.3" stroke-width="0.8"/>
<path d="M362.5,315.0 L365.0,310.0 L369.2,305.0 L375.0,300.8 L381.7,297.5 L388.3,294.2 L395.0,291.7" stroke-width="0.8"/>
<path d="M385.0,315.0 L386.7,310.0 L390.0,305.0 L395.0,300.8" stroke-width="0.8"/>
<path d="M295.0,285.0 L297.5,290.0 L299.2,296.7 L305.0,301.7 L311.7,306.7 L318.3,311.7 L321.7,315.0" stroke-width="0.8"/>
<path d="M295.0,300.0 L298.3,305.0 L303.3,310.0 L306.7,315.0" stroke-width="0.8"/>
<path d="M418.8,215.0 L414.2,222.3 L409.7,232.4 L406.0,240.7 L400.5,247.1 L395.0,249.8" stroke-width="0.8"/>
<path d="M429.8,233.3 L437.2,226.9 L448.2,223.2 L459.2,223.2 L466.5,221.4 L473.8,227.8 L476.6,237.0 L473.8,246.2 L467.4,253.5 L461.0,259.9 L453.7,268.2 L446.3,271.8 L439.0,271.5 L431.7,266.3 L426.2,259.9 L428.0,251.7 L429.8,242.5 Z" stroke-width="0.8"/>
<path d="M395.0,279.2 L402.3,276.4 L409.7,273.7 L418.8,271.8 L426.2,272.8 L433.5,276.4 L440.8,279.2 L450.0,279.2 L459.2,276.4 L468.3,272.8 L477.5,268.2 L484.8,263.6 L492.2,259.9 L497.7,259.0 L503.2,259.0" stroke-width="0.8"/>
<path d="M389.5,284.7 L395.0,283.8 L402.3,282.5 L411.5,280.1 L418.8,278.2 L426.2,279.2 L433.5,282.5 L440.8,285.0 L450.0,285.6 L459.2,285.6 L468.3,284.7 L475.7,282.8 L484.8,280.1 L494.0,278.2 L503.2,277.3" stroke-width="1.7"/>
<path d="M395.0,287.4 L406.0,286.5 L415.2,285.6 L422.5,285.0 L429.8,287.4 L437.2,290.5 L444.5,292.9 L453.7,294.2 L459.2,295.7 L464.7,298.4 L470.2,298.4 L477.5,296.6 L486.7,294.8 L494.0,294.2 L503.2,293.5" stroke-width="0.8"/>
<path d="M395.0,300.2 L400.5,297.5 L407.8,296.6 L415.2,298.4 L422.5,303.0 L427.1,308.5 L428.9,315.8 L428.0,325.0" stroke-width="0.8"/>
<path d="M395.0,290.2 L406.0,290.5 L417.0,291.1 L424.3,292.0 L431.7,293.8 L439.0,297.5 L445.4,304.8 L448.2,312.2 L450.0,315.8 L447.2,321.3 L446.3,325.0" stroke-width="0.8"/>
<path d="M136.7,315.0 L134.2,320.0 L130.0,327.5 L125.8,331.3 L120.0,329.2 L112.5,325.3 L108.3,330.8 L106.7,338.3 L107.0,347.5 L113.3,350.8 L120.0,355.8 L120.8,365.0 L119.2,366.7 L122.5,373.3 L128.3,379.2 L134.2,384.2 L137.5,391.7 L140.0,398.3" stroke-width="1.9" stroke-dasharray="3.6 1.3" stroke-linecap="butt"/>
<path d="M140.0,398.3 L145.0,403.3 L150.8,410.0 L152.5,415.0" stroke-width="0.8"/>
<path d="M135.0,315.0 L134.2,325.0 L135.0,335.0 L137.5,345.0 L140.0,353.3 L142.5,359.2 L148.3,362.5 L149.7,371.7 L150.0,381.7 L151.7,391.7 L153.3,400.0 L154.2,408.3 L152.5,415.0" stroke-width="0.8"/>
<path d="M153.3,315.0 L154.2,321.7 L156.7,328.3 L161.7,335.0 L168.3,341.7 L175.0,343.7 L183.3,343.0 L191.7,344.2 L195.0,345.0" stroke-width="0.8"/>
<path d="M165.0,315.0 L162.5,320.0 L163.3,326.7 L168.3,334.2 L178.3,335.3 L185.0,330.8 L189.2,325.8 L190.0,320.0 L188.3,315.0" stroke-width="0.8"/>
<path d="M169.2,324.5 L177.5,325.0" stroke-width="2.6"/>
<path d="M195.0,362.5 L188.3,365.0 L180.0,367.5 L174.2,371.7 L172.5,378.3 L173.3,386.7 L176.7,395.0 L180.0,401.7 L179.2,408.3 L177.5,415.0" stroke-width="0.8"/>
<path d="M190.8,315.0 L191.7,325.0 L190.8,335.0 L191.7,345.0 L192.5,356.7 L193.3,370.0 L193.3,381.7 L191.7,393.3 L189.2,403.3 L187.5,415.0" stroke-width="0.8"/>
<path d="M188.3,345.0 L188.3,356.7 L189.7,365.0 L190.3,381.7 L189.2,393.3 L186.7,405.0 L185.0,415.0" stroke-width="0.8"/>
<path d="M195.8,315.0 L197.5,328.3 L198.3,341.7 L200.0,355.0 L201.7,365.0 L200.8,375.0 L198.3,385.0 L196.7,395.0 L195.8,405.0 L195.0,415.0" stroke-width="0.8"/>
<path d="M200.0,315.0 L201.7,328.3 L202.5,341.7 L204.2,355.0 L205.8,365.0 L204.2,376.7 L201.7,386.7 L200.0,396.7 L198.7,406.7 L198.0,415.0" stroke-width="0.8"/>
<path d="M204.2,315.0 L206.7,323.3 L207.5,333.3 L205.8,343.3 L206.7,353.3 L210.0,363.3 L215.0,368.3 L217.5,372.5 L215.8,380.0 L216.7,386.7 L221.7,390.8 L230.0,393.3 L238.3,395.0 L246.7,398.3 L255.0,400.8 L265.0,401.7" stroke-width="1.7"/>
<path d="M225.0,315.0 L230.8,323.3 L235.8,331.7 L239.2,340.0 L241.7,348.3 L245.0,356.7 L250.0,365.0 L255.8,372.5 L258.3,381.7 L261.7,390.0 L265.0,396.7 L266.7,401.7" stroke-width="1.7"/>
<path d="M228.3,315.0 L235.0,322.5 L240.8,330.8 L245.0,340.0 L248.3,348.3 L252.5,356.7 L257.5,365.0 L261.7,371.7" stroke-width="0.8"/>
<path d="M233.3,315.0 L240.0,321.7 L245.8,330.0 L250.0,338.3 L252.5,346.7 L257.5,350.8 L263.3,351.7 L265.8,347.5 L266.7,344.2" stroke-width="0.8"/>
<path d="M207.5,349.2 L216.7,340.8 L222.5,344.2 L234.2,345.8 L237.5,353.3 L240.0,361.7 L245.0,370.0 L250.0,376.7 L250.8,383.3 L247.5,389.2 L240.0,388.3 L231.7,386.7 L223.3,384.2 L221.7,379.2 L226.7,373.3 L230.8,369.2 L224.2,364.2 L215.0,362.5 L210.0,356.7 Z" stroke-width="0.8"/>
<path d="M231.7,380.8 L235.8,378.7 L241.7,380.8 L239.2,383.0 L233.3,382.5 Z" stroke-width="0.8"/>
<path d="M213.3,325.8 L218.3,328.3 L223.3,325.8 L221.7,321.7 L216.7,318.3 L214.2,321.7 Z" stroke-width="0.8"/>
<path d="M273.3,315.0 L270.8,323.3 L273.3,333.3 L276.7,342.5 L275.8,351.7 L273.3,359.2 L272.5,365.0 L276.7,371.7 L281.7,377.5 L285.0,382.5" stroke-width="0.8"/>
<path d="M295.0,325.0 L288.3,327.5 L282.5,333.3 L285.0,341.7 L290.0,348.3 L291.7,355.0 L288.3,360.0 L283.3,363.3" stroke-width="0.8"/>
<path d="M291.7,371.2 L295.0,372.5" stroke-width="2.6"/>
<path d="M226.7,408.3 L232.5,405.8 L239.2,409.2 L236.7,413.3 L230.8,412.5 Z" stroke-width="1.7"/>
<path d="M292.5,371.2 L298.8,367.5 L307.5,367.0 L313.8,371.2 L307.5,376.2 L298.8,375.5 Z" stroke-width="1.7"/>
<path d="M347.5,372.5 L352.5,367.5 L362.5,366.2 L372.5,368.8 L377.5,376.2 L375.0,383.8 L365.0,386.2 L355.0,385.0 L348.8,380.0 Z" stroke-width="1.7"/>
<path d="M355.0,371.2 L366.2,371.2 L367.5,380.0 L356.2,380.0 Z" stroke-width="0.8"/>
<path d="M370.0,427.5 L366.2,424.5 L355.0,422.5 L342.5,418.8 L333.8,411.2 L331.2,402.5 L336.2,397.5 L345.0,395.0 L355.0,396.2 L365.0,400.0 L377.5,405.0 L386.2,408.8 L390.0,416.2 L387.5,423.8" stroke-width="1.7"/>
<path d="M343.8,406.2 L347.5,402.5 L355.0,407.0 L350.0,410.0 Z" stroke-width="0.8"/>
<path d="M295.0,398.8 L307.5,393.8 L322.5,390.0 L330.0,392.5 L322.5,396.2 L312.5,400.0 L302.5,405.0 L297.5,411.2 L305.0,416.2 L317.5,417.5 L327.5,417.5 L328.8,413.8" stroke-width="0.8"/>
<path d="M245.0,402.5 L257.5,407.5 L270.0,413.8 L282.5,418.8 L295.0,421.2 L310.0,422.0 L325.0,425.0 L340.0,427.5 L355.0,428.8 L370.0,430.5 L385.0,430.5 L395.0,429.5" stroke-width="0.8"/>
<path d="M245.0,440.0 L252.5,441.2 L260.0,440.0 L263.8,435.0 L258.8,427.5 L257.5,418.8 L267.5,416.2 L277.5,420.0 L287.5,425.0 L295.0,428.8 L310.0,430.5 L325.0,430.5 L340.0,431.2 L355.0,432.0 L370.0,433.0 L385.0,432.5 L395.0,432.0" stroke-width="1.7"/>
<path d="M282.5,435.0 L295.0,436.2 L310.0,437.5 L325.0,438.0 L340.0,438.8 L355.0,439.5 L370.0,440.0 L385.0,439.5 L395.0,438.8" stroke-width="0.8"/>
<path d="M247.5,493.0 L257.5,493.8 L267.5,492.5 L277.5,487.5 L285.0,480.0 L291.2,473.8 L302.5,472.0 L312.5,469.5 L320.0,466.2 L330.0,465.0 L340.0,466.2 L350.0,468.0 L357.5,465.0 L370.0,463.8 L380.0,465.0 L390.0,463.0 L395.0,458.8" stroke-width="1.9" stroke-dasharray="3.6 1.3" stroke-linecap="butt"/>
<path d="M245.0,478.8 L252.5,477.0 L262.5,475.0 L272.5,470.0 L282.5,467.0 L295.0,466.2 L305.0,468.8 L315.0,467.5 L322.5,461.2 L327.5,456.2 L335.0,458.0 L345.0,461.2 L355.0,462.5 L362.5,460.5 L375.0,459.5 L385.0,460.5 L392.5,456.2 L395.0,453.8" stroke-width="0.8"/>
<path d="M245.0,465.0 L251.2,463.8 L257.5,461.2 L252.5,456.2 L260.0,452.5 L270.0,448.8 L277.5,445.0 L282.5,441.2" stroke-width="0.8"/>
<path d="M270.0,383.8 L282.5,382.5 L290.0,378.8 L291.2,370.0 L298.8,365.0" stroke-width="0.8"/>
<path d="M245.0,391.2 L255.0,396.2 L265.0,402.5 L275.0,400.0 L285.0,395.0 L295.0,390.0 L310.0,386.2 L325.0,385.0 L332.5,380.0 L340.0,372.5 L345.0,365.0" stroke-width="0.8"/>
<path d="M331.2,390.0 L345.0,388.8 L357.5,390.0 L370.0,392.5 L380.0,390.0 L390.0,392.5 L395.0,396.2" stroke-width="0.8"/>
<path d="M245.0,413.8 L255.0,416.2 L265.0,423.8 L275.0,428.8 L287.5,432.5 L305.0,433.8 L325.0,434.5 L345.0,435.0 L365.0,436.0 L385.0,435.5 L395.0,435.0" stroke-width="0.8"/>
<path d="M428.9,315.0 L426.2,326.0 L422.5,335.2 L418.8,344.3 L417.0,352.6 L411.5,356.2 L404.2,358.1 L395.0,359.9" stroke-width="0.8"/>
<path d="M450.0,315.0 L446.3,324.2 L439.0,331.5 L431.7,338.8 L428.0,346.2 L426.2,352.6 L418.8,356.2 L409.7,359.9 L400.5,361.8 L395.0,363.0" stroke-width="0.8"/>
<path d="M395.0,365.4 L406.0,362.7 L417.0,359.9 L428.0,358.6 L440.8,359.9 L453.7,361.8 L466.5,361.8 L473.8,364.5 L481.2,367.2 L492.2,367.2 L503.2,365.4" stroke-width="0.8"/>
<path d="M397.8,371.8 L407.8,369.1 L418.8,368.2 L429.8,367.2 L443.6,371.8 L439.9,380.1 L429.8,378.2 L418.8,376.4 L409.7,376.4 L402.3,377.3 Z" stroke-width="1.7"/>
<path d="M395.0,348.0 L401.4,348.0 L404.2,352.6 L400.5,355.3 L395.0,354.4" stroke-width="1.7"/>
<path d="M395.0,380.1 L406.0,379.2 L418.8,380.1 L431.7,383.2 L442.7,386.5 L450.0,391.1 L455.5,395.7 L457.3,399.3" stroke-width="0.8"/>
<path d="M395.0,383.8 L407.8,382.8 L420.7,384.3 L431.7,388.3 L440.8,393.8 L446.3,401.2 L448.2,406.7 L455.5,408.5 L468.3,410.3 L481.2,412.2 L494.0,414.0 L503.2,414.9" stroke-width="0.8"/>
<path d="M393.2,398.4 L398.7,398.4 L404.2,393.8 L411.5,392.0 L418.8,395.7 L425.2,400.2 L420.7,403.9 L413.3,403.9 L406.0,402.1 L398.7,398.4" stroke-width="1.7"/>
<path d="M395.0,387.4 L406.0,386.5 L417.0,388.0 L426.2,392.0 L431.7,397.5 L433.5,403.0 L429.8,408.5 L422.5,411.2 L413.3,410.3 L404.2,408.5 L399.6,410.3 L399.6,417.7 L406.0,419.5 L422.5,420.4 L440.8,421.3 L457.3,423.2 L477.5,424.6 L503.2,426.8" stroke-width="0.8"/>
<path d="M458.2,400.2 L468.3,401.2 L479.3,402.1 L490.3,403.0 L503.2,403.0" stroke-width="0.8"/>
<path d="M152.3,400.0 L152.3,410.7 L149.7,421.3 L145.7,432.0 L147.0,445.3 L151.0,458.7 L155.0,465.3 L157.7,461.3 L155.0,450.7 L157.7,442.7 L167.0,441.3 L175.0,442.7 L177.7,452.0 L179.0,461.3 L184.3,466.7 L196.3,468.0 L207.0,468.0 L212.3,472.0 L215.0,480.0 L220.3,485.3 L231.0,489.3 L244.3,492.0 L255.0,493.3" stroke-width="1.9" stroke-dasharray="3.6 1.3" stroke-linecap="butt"/>
<path d="M151.0,442.7 L157.7,457.3 L165.7,445.3 L171.0,441.3 L175.0,457.3 L179.0,453.3" stroke-width="0.8"/>
<path d="M180.3,400.0 L176.3,416.0 L180.3,432.0 L184.3,448.0 L187.0,458.7 L199.0,462.7 L209.7,464.0 L213.7,470.7" stroke-width="0.8"/>
<path d="M188.3,400.0 L183.0,416.0 L185.7,432.0 L189.7,445.3 L192.3,453.3 L204.3,457.3 L215.0,457.3 L228.3,460.0" stroke-width="0.8"/>
<path d="M192.3,400.0 L188.3,416.0 L191.0,429.3 L195.0,440.0 L200.3,446.7 L212.3,445.3 L228.3,442.7 L244.3,445.3 L255.0,449.3" stroke-width="1.7"/>
<path d="M200.3,400.0 L197.7,413.3 L199.0,426.7 L207.0,434.7 L220.3,433.3 L236.3,432.0 L255.0,436.0" stroke-width="0.8"/>
<path d="M204.3,409.3 L208.3,402.7 L213.7,406.7 L217.7,416.0 L215.0,422.7 L207.0,422.7 L203.8,416.0 Z" stroke-width="1.7"/>
<path d="M227.0,409.3 L233.7,405.9 L240.3,408.0 L235.0,413.3 Z" stroke-width="0.8"/>
<path d="M217.7,400.0 L221.7,410.7 L228.3,421.3 L239.0,426.7 L249.7,425.3 L255.0,426.7" stroke-width="0.8"/>
<path d="M225.7,477.3 L239.0,478.7 L255.0,474.7" stroke-width="0.8"/>
<path d="M385.0,467.0 L393.0,464.0 L395.0,455.0 L403.0,450.0 L413.0,444.0 L422.0,437.0 L433.0,435.0 L445.0,435.0 L453.0,436.0 L461.0,439.0 L471.0,442.0 L481.0,444.0 L491.0,445.0 L497.0,444.0 L503.0,440.0" stroke-width="1.3" stroke-dasharray="6 1.5" stroke-linecap="butt"/>
<path d="M385.0,440.0 L397.0,437.0 L409.0,435.0 L421.0,435.0 L424.0,441.0 L435.0,444.0 L447.0,446.0 L455.0,449.0 L465.0,452.0 L475.0,453.0 L481.0,454.0" stroke-width="0.8"/>
<path d="M389.0,415.0 L392.0,420.0 L401.0,423.0 L417.0,424.0 L433.0,424.6 L449.0,425.4 L465.0,426.6 L481.0,428.0 L497.0,429.4 L505.0,430.0" stroke-width="1.7"/>
<path d="M399.0,415.0 L401.0,418.0 L417.0,419.0 L437.0,419.4 L457.0,420.0 L477.0,421.4 L505.0,424.0" stroke-width="0.8"/>
<path d="M457.0,429.0 L469.0,433.0 L481.0,437.0 L493.0,439.0 L505.0,435.0" stroke-width="0.8"/>
<path d="M306.7,315.0 L309.2,321.7 L308.3,328.3 L301.7,332.5 L296.7,335.8 L296.7,341.7" stroke-width="1.7"/>
<path d="M301.7,332.5 L308.3,331.7 L315.0,330.8 L323.3,330.0 L331.7,329.2 L338.3,330.0 L345.0,330.8 L348.3,326.7 L349.2,320.0 L350.0,315.0" stroke-width="1.7"/>
<path d="M295.0,322.5 L298.3,321.7 L300.0,318.3 L299.2,315.0" stroke-width="0.8"/>
<path d="M311.7,315.0 L315.0,319.2 L320.0,322.5 L328.3,323.0 L338.3,321.7 L345.0,320.0 L346.7,315.0" stroke-width="0.8"/>
<path d="M355.0,315.0 L355.8,323.3 L355.0,331.7 L353.3,338.3 L348.3,343.3 L343.3,345.8 L338.3,343.3 L333.3,340.0 L326.7,340.0 L320.0,344.2 L315.0,348.3 L310.8,353.3 L315.0,358.3 L320.0,363.3 L324.2,370.0 L325.0,376.7 L321.7,383.3 L315.0,385.0 L308.3,386.7 L301.7,391.7 L297.5,398.3 L295.0,403.3" stroke-width="0.8"/>
<path d="M373.3,315.0 L370.0,321.7 L368.3,330.0 L366.7,338.3 L365.0,345.0 L365.8,353.3 L373.3,358.3 L381.7,362.5 L390.0,365.0 L395.0,365.8" stroke-width="0.8"/>
<path d="M357.5,344.2 L356.7,353.3 L363.3,357.5 L371.7,361.7 L380.0,365.8 L388.3,368.3 L395.0,369.2" stroke-width="0.8"/>
<path d="M326.7,354.2 L330.8,352.0 L337.5,352.5 L340.0,358.3 L339.2,364.2 L334.2,365.0 L329.2,361.7 Z" stroke-width="0.8"/>
<path d="M295.0,368.3 L300.0,366.7 L307.5,367.5 L313.3,372.5 L309.2,377.5 L302.5,377.5 L296.7,374.2 L295.0,373.3" stroke-width="1.7"/>
<path d="M346.7,372.5 L350.8,368.3 L358.3,366.7 L366.7,368.3 L374.2,372.5 L377.5,378.3 L374.2,383.3 L366.7,385.0 L358.3,384.2 L350.8,381.7 L347.0,377.5 Z" stroke-width="1.7"/>
<path d="M354.2,371.7 L365.8,371.7 L367.5,380.0 L355.0,380.8 Z" stroke-width="0.8"/>
<path d="M338.3,375.0 L341.7,368.3 L350.0,364.2 L360.0,363.0 L370.0,365.0 L378.3,370.0 L383.3,376.7 L380.0,383.3 L373.3,387.5 L365.0,389.2 L355.0,388.3 L346.7,385.8 L340.0,381.7 Z" stroke-width="0.8"/>
<path d="M395.0,349.2 L382.5,349.2 L380.0,352.5 L382.5,355.0 L395.0,355.0" stroke-width="1.7"/>
<path d="M338.3,415.0 L335.0,410.0 L332.5,405.0 L330.8,400.0 L335.0,396.7 L343.3,395.0 L351.7,396.7 L358.3,400.8 L363.3,405.8 L370.0,408.3 L380.0,409.2 L388.3,411.7 L391.7,415.0" stroke-width="1.7"/>
<path d="M343.3,406.7 L346.7,401.7 L355.0,408.3 L348.3,410.0 Z" stroke-width="0.8"/>
<path d="M316.7,400.0 L325.0,393.3 L335.0,390.8 L345.0,390.0 L355.0,391.7 L361.7,396.7 L366.7,401.7 L375.0,404.2 L385.0,405.0 L395.0,405.8" stroke-width="0.8"/>
<path d="M338.3,385.0 L348.3,388.3 L358.3,391.7 L366.7,396.7 L375.0,399.2 L385.0,398.3 L395.0,395.0" stroke-width="0.8"/>
<path d="M96.0,160.0 L106.0,168.0 L117.0,180.0 L128.0,190.0 L138.0,200.0 L141.0,212.0" stroke-width="0.8"/>
<path d="M96.0,188.0 L102.0,194.0 L110.0,204.0 L115.0,211.0" stroke-width="0.8"/>
<path d="M95.0,194.0 L101.0,201.0" stroke-width="1.9" stroke-dasharray="3.6 1.3" stroke-linecap="butt"/>
<path d="M246.0,195.5 L243.7,197.4 L239.8,203.6 L240.5,209.0 L242.5,215.0" stroke-width="1.7"/>
<path d="M233.6,200.5 L234.4,209.8 L236.7,219.1 L242.9,231.5 L249.1,242.4 L252.2,247.0" stroke-width="0.8"/>
</g>
<g stroke="#fff" stroke-width="1.2" fill="none">
<line x1="114.2" y1="65.4" x2="127.5" y2="557.3"/>
<line x1="188.7" y1="65.4" x2="197.5" y2="557.3"/>
<line x1="263.2" y1="65.4" x2="267.5" y2="557.3"/>
<line x1="337.7" y1="65.4" x2="337.8" y2="557.3"/>
<line x1="412.2" y1="65.4" x2="407.5" y2="557.3"/>
<line x1="486.7" y1="65.4" x2="477.5" y2="557.3"/>
<polyline points="95.0,89.2 103.0,89.0 111.0,88.8 119.0,88.5 127.0,88.3 135.0,88.1 143.0,87.9 151.0,87.7 159.0,87.6 167.0,87.4 175.0,87.2 183.0,87.1 191.0,86.9 199.0,86.8 207.0,86.7 215.0,86.5 223.0,86.4 231.0,86.3 239.0,86.2 247.0,86.1 255.0,86.0 263.0,85.9 271.0,85.9 279.0,85.8 287.0,85.8 295.0,85.7 303.0,85.7 311.0,85.6 319.0,85.6 327.0,85.6 335.0,85.6 343.0,85.6 351.0,85.6 359.0,85.6 367.0,85.7 375.0,85.7 383.0,85.7 391.0,85.8 399.0,85.8 407.0,85.9 415.0,86.0 423.0,86.0 431.0,86.1 439.0,86.2 447.0,86.3 455.0,86.4 463.0,86.6 471.0,86.7 479.0,86.8 487.0,87.0 495.0,87.1 503.0,87.3"/>
<polyline points="95.0,175.4 103.0,175.1 111.0,174.9 119.0,174.7 127.0,174.5 135.0,174.3 143.0,174.1 151.0,173.9 159.0,173.7 167.0,173.5 175.0,173.3 183.0,173.2 191.0,173.0 199.0,172.9 207.0,172.8 215.0,172.6 223.0,172.5 231.0,172.4 239.0,172.3 247.0,172.2 255.0,172.1 263.0,172.0 271.0,172.0 279.0,171.9 287.0,171.9 295.0,171.8 303.0,171.8 311.0,171.7 319.0,171.7 327.0,171.7 335.0,171.7 343.0,171.7 351.0,171.7 359.0,171.7 367.0,171.8 375.0,171.8 383.0,171.8 391.0,171.9 399.0,171.9 407.0,172.0 415.0,172.1 423.0,172.2 431.0,172.2 439.0,172.3 447.0,172.4 455.0,172.6 463.0,172.7 471.0,172.8 479.0,172.9 487.0,173.1 495.0,173.2 503.0,173.4"/>
<polyline points="95.0,261.5 103.0,261.3 111.0,261.0 119.0,260.8 127.0,260.6 135.0,260.4 143.0,260.2 151.0,260.0 159.0,259.8 167.0,259.6 175.0,259.5 183.0,259.3 191.0,259.2 199.0,259.0 207.0,258.9 215.0,258.7 223.0,258.6 231.0,258.5 239.0,258.4 247.0,258.3 255.0,258.2 263.0,258.2 271.0,258.1 279.0,258.0 287.0,258.0 295.0,257.9 303.0,257.9 311.0,257.8 319.0,257.8 327.0,257.8 335.0,257.8 343.0,257.8 351.0,257.8 359.0,257.8 367.0,257.9 375.0,257.9 383.0,257.9 391.0,258.0 399.0,258.0 407.0,258.1 415.0,258.2 423.0,258.3 431.0,258.3 439.0,258.4 447.0,258.6 455.0,258.7 463.0,258.8 471.0,258.9 479.0,259.1 487.0,259.2 495.0,259.4 503.0,259.5"/>
<polyline points="95.0,347.6 103.0,347.4 111.0,347.2 119.0,346.9 127.0,346.7 135.0,346.5 143.0,346.3 151.0,346.1 159.0,345.9 167.0,345.8 175.0,345.6 183.0,345.4 191.0,345.3 199.0,345.1 207.0,345.0 215.0,344.9 223.0,344.7 231.0,344.6 239.0,344.5 247.0,344.4 255.0,344.3 263.0,344.3 271.0,344.2 279.0,344.1 287.0,344.1 295.0,344.0 303.0,344.0 311.0,343.9 319.0,343.9 327.0,343.9 335.0,343.9 343.0,343.9 351.0,343.9 359.0,343.9 367.0,344.0 375.0,344.0 383.0,344.0 391.0,344.1 399.0,344.1 407.0,344.2 415.0,344.3 423.0,344.4 431.0,344.5 439.0,344.6 447.0,344.7 455.0,344.8 463.0,344.9 471.0,345.0 479.0,345.2 487.0,345.3 495.0,345.5 503.0,345.6"/>
<polyline points="95.0,433.8 103.0,433.5 111.0,433.3 119.0,433.1 127.0,432.9 135.0,432.6 143.0,432.4 151.0,432.2 159.0,432.1 167.0,431.9 175.0,431.7 183.0,431.5 191.0,431.4 199.0,431.2 207.0,431.1 215.0,431.0 223.0,430.8 231.0,430.7 239.0,430.6 247.0,430.5 255.0,430.4 263.0,430.4 271.0,430.3 279.0,430.2 287.0,430.2 295.0,430.1 303.0,430.1 311.0,430.0 319.0,430.0 327.0,430.0 335.0,430.0 343.0,430.0 351.0,430.0 359.0,430.0 367.0,430.1 375.0,430.1 383.0,430.1 391.0,430.2 399.0,430.2 407.0,430.3 415.0,430.4 423.0,430.5 431.0,430.6 439.0,430.7 447.0,430.8 455.0,430.9 463.0,431.0 471.0,431.1 479.0,431.3 487.0,431.4 495.0,431.6 503.0,431.8"/>
<polyline points="95.0,519.9 103.0,519.7 111.0,519.4 119.0,519.2 127.0,519.0 135.0,518.8 143.0,518.6 151.0,518.4 159.0,518.2 167.0,518.0 175.0,517.8 183.0,517.7 191.0,517.5 199.0,517.4 207.0,517.2 215.0,517.1 223.0,517.0 231.0,516.8 239.0,516.7 247.0,516.6 255.0,516.5 263.0,516.5 271.0,516.4 279.0,516.3 287.0,516.3 295.0,516.2 303.0,516.2 311.0,516.1 319.0,516.1 327.0,516.1 335.0,516.1 343.0,516.1 351.0,516.1 359.0,516.1 367.0,516.2 375.0,516.2 383.0,516.2 391.0,516.3 399.0,516.3 407.0,516.4 415.0,516.5 423.0,516.6 431.0,516.7 439.0,516.8 447.0,516.9 455.0,517.0 463.0,517.1 471.0,517.3 479.0,517.4 487.0,517.5 495.0,517.7 503.0,517.9"/>
</g>
<rect x="142" y="112" width="315.3" height="398.9" fill="none" stroke="#fff" stroke-width="2" stroke-dasharray="8.4 3.4"/>
<rect x="95.4" y="65.4" width="408.20" height="491.90" fill="none" stroke="#000" stroke-width="1.3"/>
<g id="labels">
<text x="199.5" y="25" class="t1" textLength="98" lengthAdjust="spacingAndGlyphs">Cu Cloudbase</text>
<text x="303.7" y="23" class="t1s" textLength="96.3" lengthAdjust="spacingAndGlyphs">where Cu Potential &gt; 0</text>
<text x="155.5" y="38.8" class="t2" textLength="80.7" lengthAdjust="spacingAndGlyphs">Valid 1400 LST</text>
<text x="243.2" y="38.5" class="t2s" textLength="28.5" lengthAdjust="spacingAndGlyphs">(1200Z)</text>
<text x="277.5" y="38.8" class="t2" textLength="85" lengthAdjust="spacingAndGlyphs">SAT 9 Apr 2011</text>
<text x="367.5" y="38.5" class="t2s" textLength="75" lengthAdjust="spacingAndGlyphs">[18hrFcst@2156z]</text>
<text x="114" y="62.3" class="ll">18E</text>
<text x="188.4" y="62.3" class="ll">19E</text>
<text x="263.5" y="62.3" class="ll">20E</text>
<text x="337.5" y="62.3" class="ll">21E</text>
<text x="412.2" y="62.3" class="ll">22E</text>
<text x="486.7" y="62.3" class="ll">23E</text>
<text x="127.3" y="569.7" class="ll">18E</text>
<text x="197.5" y="568" class="ll">19E</text>
<text x="267.2" y="567.3" class="ll">20E</text>
<text x="338" y="567.3" class="ll">21E</text>
<text x="100.4" y="92.5" class="ll">30S</text>
<text x="103" y="178.4" class="ll">31S</text>
<text x="105.5" y="263.9" class="ll">32S</text>
<text x="81.5" y="351.1" class="ll">33S</text>
<text x="84.5" y="436.9" class="ll">34S</text>
<text x="87.2" y="522.9" class="ll">35S</text>
<text x="506.2" y="91.2" class="ll">30S</text>
<text x="504.8" y="177.1" class="ll">31S</text>
<text x="503.3" y="263.1" class="ll">32S</text>
<text x="501.2" y="349.1" class="ll">33S</text>
<text x="500.2" y="434.8" class="ll">34S</text>
<text x="498.5" y="520.4" class="ll">35S</text>
<text x="399.8" y="568.6" class="tc" textLength="102.5" lengthAdjust="spacingAndGlyphs">Terrain contours: 500 ft</text>
<text x="38.5" y="585" class="ft">[ft]</text>
<text x="546.5" y="585" class="ft">[ft]</text>
</g>
<g>
<rect x="63.50" y="572.5" width="15.23" height="5.0" fill="#0008ff" stroke="#000" stroke-width="1"/>
<rect x="78.73" y="572.5" width="15.23" height="5.0" fill="#002cff" stroke="#000" stroke-width="1"/>
<rect x="93.96" y="572.5" width="15.23" height="5.0" fill="#0066ff" stroke="#000" stroke-width="1"/>
<rect x="109.20" y="572.5" width="15.23" height="5.0" fill="#0099ff" stroke="#000" stroke-width="1"/>
<rect x="124.43" y="572.5" width="15.23" height="5.0" fill="#00ccff" stroke="#000" stroke-width="1"/>
<rect x="139.66" y="572.5" width="15.23" height="5.0" fill="#00e8ff" stroke="#000" stroke-width="1"/>
<rect x="154.89" y="572.5" width="15.23" height="5.0" fill="#00f0de" stroke="#000" stroke-width="1"/>
<rect x="170.13" y="572.5" width="15.23" height="5.0" fill="#00e6aa" stroke="#000" stroke-width="1"/>
<rect x="185.36" y="572.5" width="15.23" height="5.0" fill="#00dc7d" stroke="#000" stroke-width="1"/>
<rect x="200.59" y="572.5" width="15.23" height="5.0" fill="#00cd55" stroke="#000" stroke-width="1"/>
<rect x="215.82" y="572.5" width="15.23" height="5.0" fill="#0ac037" stroke="#000" stroke-width="1"/>
<rect x="231.05" y="572.5" width="15.23" height="5.0" fill="#14b414" stroke="#000" stroke-width="1"/>
<rect x="246.29" y="572.5" width="15.23" height="5.0" fill="#32be14" stroke="#000" stroke-width="1"/>
<rect x="261.52" y="572.5" width="15.23" height="5.0" fill="#5ac814" stroke="#000" stroke-width="1"/>
<rect x="276.75" y="572.5" width="15.23" height="5.0" fill="#87d714" stroke="#000" stroke-width="1"/>
<rect x="291.98" y="572.5" width="15.23" height="5.0" fill="#aae119" stroke="#000" stroke-width="1"/>
<rect x="307.22" y="572.5" width="15.23" height="5.0" fill="#dcf01e" stroke="#000" stroke-width="1"/>
<rect x="322.45" y="572.5" width="15.23" height="5.0" fill="#ffff00" stroke="#000" stroke-width="1"/>
<rect x="337.68" y="572.5" width="15.23" height="5.0" fill="#ffe800" stroke="#000" stroke-width="1"/>
<rect x="352.91" y="572.5" width="15.23" height="5.0" fill="#ffd400" stroke="#000" stroke-width="1"/>
<rect x="368.15" y="572.5" width="15.23" height="5.0" fill="#ffc600" stroke="#000" stroke-width="1"/>
<rect x="383.38" y="572.5" width="15.23" height="5.0" fill="#ffb600" stroke="#000" stroke-width="1"/>
<rect x="398.61" y="572.5" width="15.23" height="5.0" fill="#ffa200" stroke="#000" stroke-width="1"/>
<rect x="413.84" y="572.5" width="15.23" height="5.0" fill="#ff8c00" stroke="#000" stroke-width="1"/>
<rect x="429.07" y="572.5" width="15.23" height="5.0" fill="#ff7000" stroke="#000" stroke-width="1"/>
<rect x="444.31" y="572.5" width="15.23" height="5.0" fill="#ff5800" stroke="#000" stroke-width="1"/>
<rect x="459.54" y="572.5" width="15.23" height="5.0" fill="#ff3a00" stroke="#000" stroke-width="1"/>
<rect x="474.77" y="572.5" width="15.23" height="5.0" fill="#ff1800" stroke="#000" stroke-width="1"/>
<rect x="490.00" y="572.5" width="15.23" height="5.0" fill="#f00014" stroke="#000" stroke-width="1"/>
<rect x="505.24" y="572.5" width="15.23" height="5.0" fill="#d4002d" stroke="#000" stroke-width="1"/>
<rect x="520.47" y="572.5" width="15.23" height="5.0" fill="#b8003e" stroke="#000" stroke-width="1"/>
</g>
<g>
<text x="78.7" y="590.3" class="cbl">500</text>
<text x="124.4" y="590.3" class="cbl">2000</text>
<text x="170.1" y="590.3" class="cbl">3500</text>
<text x="215.8" y="590.3" class="cbl">5000</text>
<text x="261.5" y="590.3" class="cbl">6500</text>
<text x="307.2" y="590.3" class="cbl">8000</text>
<text x="352.9" y="590.3" class="cbl">9500</text>
<text x="398.6" y="590.3" class="cbl">11000</text>
<text x="444.3" y="590.3" class="cbl">12500</text>
<text x="490.0" y="590.3" class="cbl">14000</text>
</g>
</svg>
</body></html>
